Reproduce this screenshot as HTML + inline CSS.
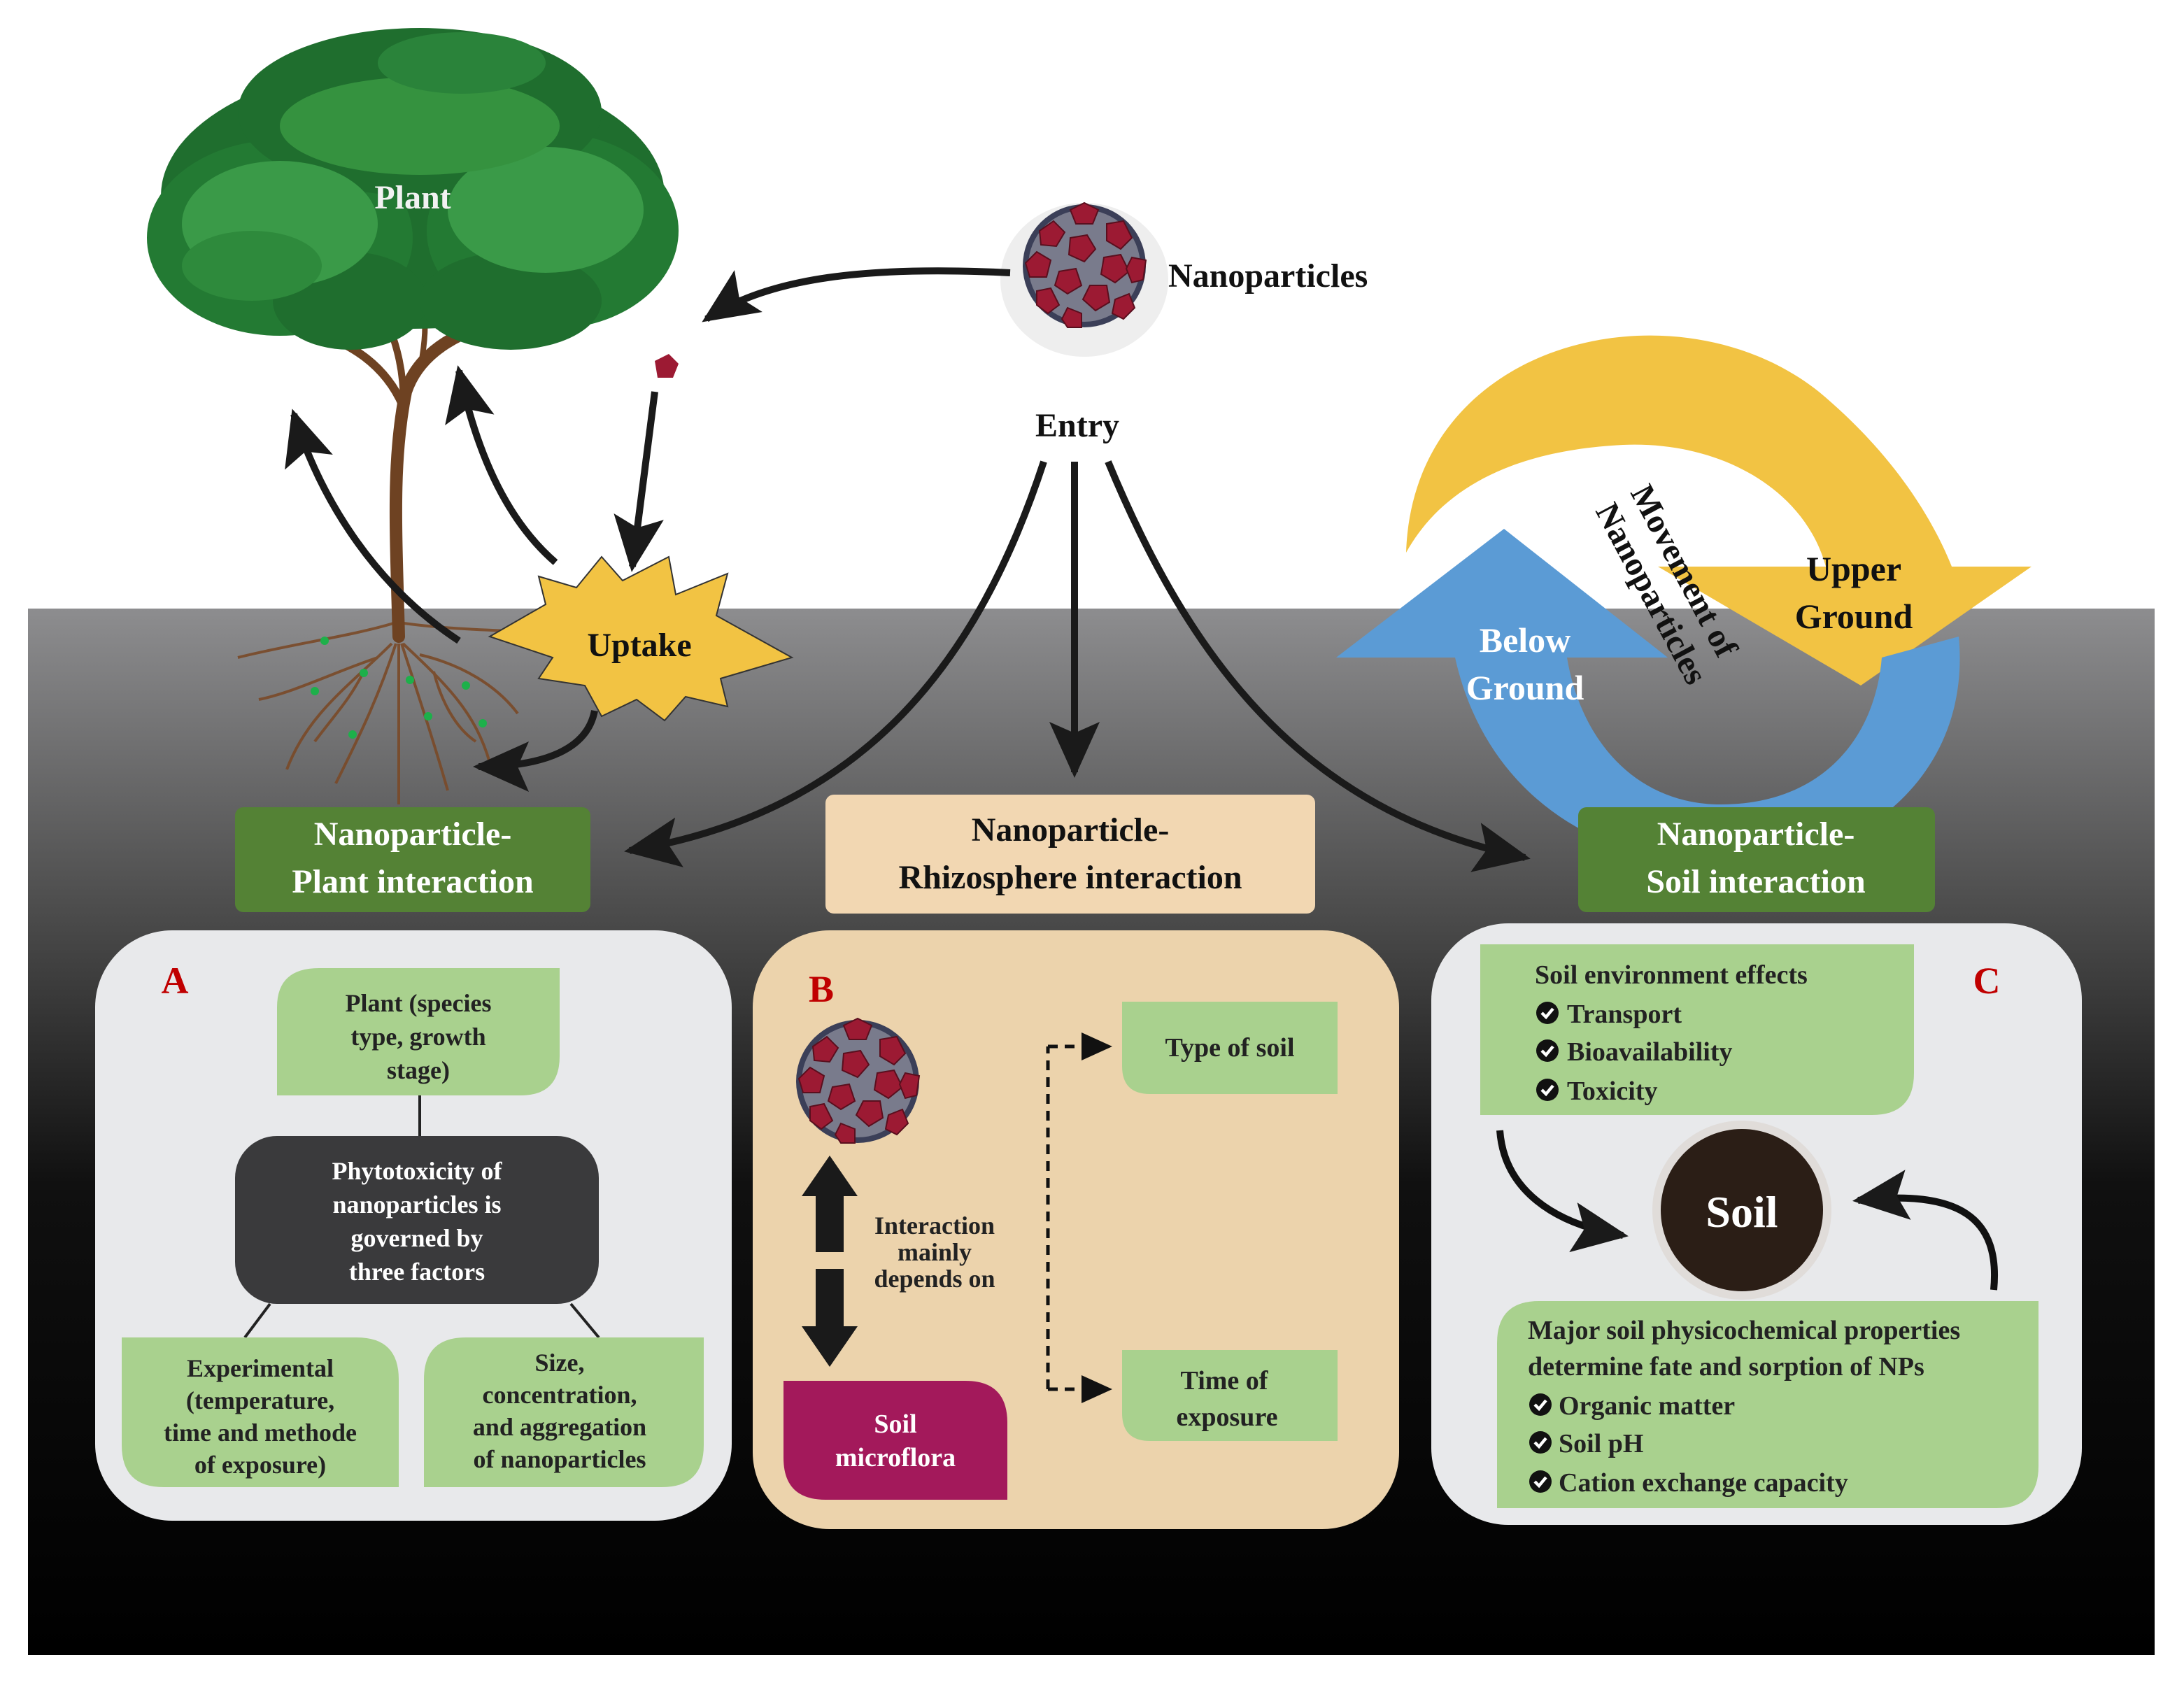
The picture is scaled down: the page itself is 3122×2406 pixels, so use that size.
<!DOCTYPE html>
<html><head><meta charset="utf-8"><style>
html,body{margin:0;padding:0;background:#fff;}
svg{display:block;}
text{font-family:"Liberation Serif",serif;font-weight:bold;}
</style></head><body>
<svg width="3122" height="2406" viewBox="0 0 1561 1203" xmlns="http://www.w3.org/2000/svg">
<defs>
<linearGradient id="bg" x1="0" y1="0" x2="0" y2="1">
<stop offset="0" stop-color="#8d8d8f"/>
<stop offset="0.28" stop-color="#4e4e4e"/>
<stop offset="0.55" stop-color="#101010"/>
<stop offset="1" stop-color="#000"/>
</linearGradient>
<marker id="ah" markerUnits="userSpaceOnUse" markerWidth="44" markerHeight="40" refX="36" refY="20" orient="auto">
<path d="M0,2 L40,20 L0,38 L8,20 Z" fill="#1a1a1a"/>
</marker>
<marker id="ahs" markerUnits="userSpaceOnUse" markerWidth="24" markerHeight="22" refX="20" refY="11" orient="auto">
<path d="M0,1 L22,11 L0,21 Z" fill="#111"/>
</marker>
<radialGradient id="np" cx="0.5" cy="0.5" r="0.5">
<stop offset="0" stop-color="#ccc"/><stop offset="1" stop-color="#999"/>
</radialGradient>
<g id="cluster">
<circle r="44" fill="#3b3f58"/>
<circle r="40" fill="#b7b7c0" opacity="0.5"/>
<g fill="#9c1a33" stroke="#5a0f1e" stroke-width="1">
<polygon points="-10,-40 0,-45 10,-40 6,-30 -6,-30"/>
<polygon points="-32,-25 -22,-32 -14,-24 -20,-14 -31,-15"/>
<polygon points="16,-30 28,-32 34,-20 26,-12 16,-18"/>
<polygon points="-42,-2 -34,-10 -24,-4 -27,8 -39,8"/>
<polygon points="-10,-20 2,-22 8,-12 0,-3 -11,-8"/>
<polygon points="14,-6 26,-8 32,4 22,12 12,6"/>
<polygon points="34,-6 44,-4 42,10 34,12 30,2"/>
<polygon points="-18,4 -6,2 -2,14 -12,20 -21,14"/>
<polygon points="4,14 16,14 18,26 8,32 -1,24"/>
<polygon points="-34,18 -24,16 -18,28 -26,34 -34,28"/>
<polygon points="22,24 32,20 36,30 28,38 20,34"/>
<polygon points="-12,30 -2,34 -2,44 -12,44 -16,38"/>
</g>
</g>
</defs>

<!-- ground -->
<rect x="20" y="435" width="1520" height="748" fill="url(#bg)"/>

<!-- cycle -->
<path d="M1005,395 C1010,240 1200,200 1300,280 C1360,330 1385,380 1395,405 L1305,405 C1290,350 1230,315 1160,318 C1080,322 1030,350 1005,395 Z" fill="#f2c343"/>
<polygon points="1185,405 1452,405 1330,490" fill="#f2c343"/>
<path d="M1400,455 C1410,560 1320,625 1220,618 C1130,612 1060,560 1040,470 L1120,470 C1130,530 1170,575 1230,575 C1300,575 1340,530 1345,470 Z" fill="#5b9bd5"/>
<polygon points="955,470 1192,470 1075,378" fill="#5b9bd5"/>
<text x="1325" y="415" font-size="25" text-anchor="middle" fill="#111">Upper</text>
<text x="1325" y="449" font-size="25" text-anchor="middle" fill="#111">Ground</text>
<text x="1090" y="466" font-size="25" text-anchor="middle" fill="#fff">Below</text>
<text x="1090" y="500" font-size="25" text-anchor="middle" fill="#fff">Ground</text>
<g transform="translate(1165,352) rotate(62)"><text x="0" y="0" font-size="24" fill="#111">Movement of</text></g>
<g transform="translate(1140,365) rotate(62)"><text x="0" y="0" font-size="24" fill="#111">Nanoparticles</text></g>

<!-- tree roots -->
<g stroke="#7a4a28" stroke-width="2" fill="none" opacity="0.9">
<path d="M283,445 C250,455 210,460 170,470"/>
<path d="M285,445 C320,450 350,450 380,452"/>
<path d="M280,460 C250,490 220,510 205,550"/>
<path d="M288,460 C320,490 340,510 350,545"/>
<path d="M283,460 C270,500 255,530 240,560"/>
<path d="M287,460 C300,500 310,530 320,565"/>
<path d="M285,460 L285,575"/>
<path d="M270,470 C240,480 210,495 185,500"/>
<path d="M300,468 C330,475 355,490 370,510"/>
<path d="M260,480 C250,500 240,510 225,530"/>
<path d="M310,480 C315,500 325,520 340,530"/>
</g>
<g fill="#1db04a"><circle cx="232" cy="458" r="3"/><circle cx="260" cy="481" r="3"/><circle cx="225" cy="494" r="3"/><circle cx="293" cy="486" r="3"/><circle cx="333" cy="490" r="3"/><circle cx="306" cy="512" r="3"/><circle cx="345" cy="517" r="3"/><circle cx="252" cy="525" r="3"/></g>

<!-- trunk -->
<g stroke="#6e4222" fill="none" stroke-linecap="round">
<path d="M285,455 C283,380 280,330 290,280 C300,250 330,235 370,225" stroke-width="9"/>
<path d="M288,290 C275,260 250,245 220,235" stroke-width="6"/>
<path d="M288,300 C290,270 285,245 270,215" stroke-width="5"/>
<path d="M300,265 C305,240 305,225 300,205" stroke-width="4"/>
</g>
<!-- canopy -->
<g>
<ellipse cx="295" cy="140" rx="180" ry="95" fill="#1f6e2e"/>
<ellipse cx="200" cy="170" rx="95" ry="70" fill="#237a33"/>
<ellipse cx="395" cy="165" rx="90" ry="70" fill="#237a33"/>
<ellipse cx="300" cy="80" rx="130" ry="60" fill="#1f6e2e"/>
<ellipse cx="250" cy="215" rx="55" ry="35" fill="#1f6e2e"/>
<ellipse cx="365" cy="215" rx="65" ry="35" fill="#1f6e2e"/>
<ellipse cx="200" cy="160" rx="70" ry="45" fill="#3a9a48"/>
<ellipse cx="390" cy="150" rx="70" ry="45" fill="#3a9a48"/>
<ellipse cx="300" cy="90" rx="100" ry="35" fill="#35923f"/>
<ellipse cx="180" cy="190" rx="50" ry="25" fill="#2e8a3c"/>
<ellipse cx="330" cy="45" rx="60" ry="22" fill="#2a833a"/>
</g>
<text x="295" y="149" font-size="24" text-anchor="middle" fill="#f2f2f2">Plant</text>

<!-- nanoparticles -->
<ellipse cx="775" cy="200" rx="60" ry="55" fill="#ddd" opacity="0.5"/>
<use href="#cluster" x="775" y="190"/>
<text x="835" y="205" font-size="24" fill="#111">Nanoparticles</text>
<text x="770" y="312" font-size="24" text-anchor="middle" fill="#111">Entry</text>
<polygon points="468,258 478,253 485,260 481,270 470,270" fill="#9c1a33"/>

<!-- arrows top -->
<g stroke="#1a1a1a" stroke-width="5" fill="none">
<path d="M722,195 C620,190 550,198 505,228" marker-end="url(#ah)"/>
<path d="M468,280 L452,405" marker-end="url(#ah)"/>
<path d="M397,402 C360,370 340,320 328,265" marker-end="url(#ah)"/>
<path d="M328,458 C270,420 230,360 210,296" marker-end="url(#ah)"/>
<path d="M425,508 C420,535 390,548 342,548" marker-end="url(#ah)"/>
<path d="M746,330 C700,470 620,580 450,608" marker-end="url(#ah)"/>
<path d="M768,330 L768,552" marker-end="url(#ah)"/>
<path d="M792,330 C850,470 930,580 1090,613" marker-end="url(#ah)"/>
</g>
<!-- uptake star -->
<polygon points="350,455 390,432 385,412 412,420 430,398 445,415 478,398 483,425 520,410 512,440 566,470 515,485 520,505 490,498 475,515 455,500 430,512 418,490 385,485 395,470" fill="#f2c343" stroke="#333" stroke-width="1"/>
<text x="457" y="469" font-size="24" text-anchor="middle" fill="#111">Uptake</text>

<!-- headers -->
<rect x="168" y="577" width="254" height="75" rx="6" fill="#548235"/>
<text x="295" y="604" font-size="24" text-anchor="middle" fill="#fff">Nanoparticle-</text>
<text x="295" y="638" font-size="24" text-anchor="middle" fill="#fff">Plant interaction</text>
<rect x="590" y="568" width="350" height="85" rx="6" fill="#f2d7b2"/>
<text x="765" y="601" font-size="24" text-anchor="middle" fill="#111">Nanoparticle-</text>
<text x="765" y="635" font-size="24" text-anchor="middle" fill="#111">Rhizosphere interaction</text>
<rect x="1128" y="577" width="255" height="75" rx="6" fill="#548235"/>
<text x="1255" y="604" font-size="24" text-anchor="middle" fill="#fff">Nanoparticle-</text>
<text x="1255" y="638" font-size="24" text-anchor="middle" fill="#fff">Soil interaction</text>

<!-- Panel A -->
<rect x="68" y="665" width="455" height="422" rx="55" fill="#e8e9eb"/>
<text x="125" y="710" font-size="27" text-anchor="middle" fill="#c00000">A</text>
<path d="M228,692 H400 V755 Q400,783 372,783 H198 V720 Q198,692 228,692 Z" fill="#a9d18e"/>
<text x="299" y="723" font-size="18" text-anchor="middle" fill="#222">Plant (species</text>
<text x="299" y="747" font-size="18" text-anchor="middle" fill="#222">type, growth</text>
<text x="299" y="771" font-size="18" text-anchor="middle" fill="#222">stage)</text>
<line x1="300" y1="783" x2="300" y2="812" stroke="#222" stroke-width="2"/>
<rect x="168" y="812" width="260" height="120" rx="30" fill="#3a3a3c"/>
<text x="298" y="843" font-size="18" text-anchor="middle" fill="#fff">Phytotoxicity of</text>
<text x="298" y="867" font-size="18" text-anchor="middle" fill="#fff">nanoparticles is</text>
<text x="298" y="891" font-size="18" text-anchor="middle" fill="#fff">governed by</text>
<text x="298" y="915" font-size="18" text-anchor="middle" fill="#fff">three factors</text>
<line x1="193" y1="932" x2="175" y2="956" stroke="#222" stroke-width="2"/>
<line x1="408" y1="932" x2="428" y2="956" stroke="#222" stroke-width="2"/>
<path d="M87,956 H255 Q285,956 285,986 V1063 H117 Q87,1063 87,1033 Z" fill="#a9d18e"/>
<text x="186" y="984" font-size="18" text-anchor="middle" fill="#222">Experimental</text>
<text x="186" y="1007" font-size="18" text-anchor="middle" fill="#222">(temperature,</text>
<text x="186" y="1030" font-size="18" text-anchor="middle" fill="#222">time and methode</text>
<text x="186" y="1053" font-size="18" text-anchor="middle" fill="#222">of exposure)</text>
<path d="M333,956 H503 V1033 Q503,1063 473,1063 H303 V986 Q303,956 333,956 Z" fill="#a9d18e"/>
<text x="400" y="980" font-size="18" text-anchor="middle" fill="#222">Size,</text>
<text x="400" y="1003" font-size="18" text-anchor="middle" fill="#222">concentration,</text>
<text x="400" y="1026" font-size="18" text-anchor="middle" fill="#222">and aggregation</text>
<text x="400" y="1049" font-size="18" text-anchor="middle" fill="#222">of nanoparticles</text>

<!-- Panel B -->
<rect x="538" y="665" width="462" height="428" rx="55" fill="#ecd3ac"/>
<text x="587" y="716" font-size="27" text-anchor="middle" fill="#c00000">B</text>
<use href="#cluster" x="613" y="773"/>
<polygon points="593,826 573,855 583,855 583,895 603,895 603,855 613,855" fill="#1a1a1a"/>
<polygon points="593,977 573,948 583,948 583,907 603,907 603,948 613,948" fill="#1a1a1a"/>
<text x="668" y="882" font-size="18" text-anchor="middle" fill="#222">Interaction</text>
<text x="668" y="901" font-size="18" text-anchor="middle" fill="#222">mainly</text>
<text x="668" y="920" font-size="18" text-anchor="middle" fill="#222">depends on</text>
<path d="M560,987 H690 Q720,987 720,1017 V1072 H590 Q560,1072 560,1042 Z" fill="#a3195b"/>
<text x="640" y="1024" font-size="19" text-anchor="middle" fill="#fff">Soil</text>
<text x="640" y="1048" font-size="19" text-anchor="middle" fill="#fff">microflora</text>
<g stroke="#111" stroke-width="2.5" fill="none" stroke-dasharray="7,5">
<path d="M749,993 V748"/>
<path d="M749,748 H793" marker-end="url(#ahs)"/>
<path d="M749,993 H793" marker-end="url(#ahs)"/>
</g>
<path d="M802,716 H956 V782 H822 Q802,782 802,762 Z" fill="#a9d18e"/>
<text x="879" y="755" font-size="19" text-anchor="middle" fill="#222">Type of soil</text>
<path d="M802,965 H956 V1030 H822 Q802,1030 802,1010 Z" fill="#a9d18e"/>
<text x="875" y="993" font-size="19" text-anchor="middle" fill="#222">Time of</text>
<text x="877" y="1019" font-size="19" text-anchor="middle" fill="#222">exposure</text>

<!-- Panel C -->
<rect x="1023" y="660" width="465" height="430" rx="55" fill="#e8e9eb"/>
<text x="1420" y="710" font-size="27" text-anchor="middle" fill="#c00000">C</text>
<path d="M1058,675 H1368 V767 Q1368,797 1338,797 H1058 Z" fill="#a9d18e"/>
<text x="1097" y="703" font-size="19" fill="#222">Soil environment effects</text>
<g font-size="19" fill="#222">
<text x="1120" y="731">Transport</text>
<text x="1120" y="758">Bioavailability</text>
<text x="1120" y="786">Toxicity</text>
</g>
<g fill="#111"><circle cx="1106" cy="724" r="8"/><circle cx="1106" cy="751" r="8"/><circle cx="1106" cy="779" r="8"/></g>
<g stroke="#fff" stroke-width="2.2" fill="none"><path d="M1102,724 l3,3 l5,-6"/><path d="M1102,751 l3,3 l5,-6"/><path d="M1102,779 l3,3 l5,-6"/></g>

<circle cx="1245" cy="865" r="64" fill="#d8d0c8" opacity="0.5"/>
<circle cx="1245" cy="865" r="58" fill="#2b1e16"/>
<text x="1245" y="877" font-size="32" text-anchor="middle" fill="#fff">Soil</text>
<g stroke="#111" stroke-width="5" fill="none">
<path d="M1072,808 C1075,850 1110,875 1160,883" marker-end="url(#ah)"/>
<path d="M1425,922 C1430,870 1400,850 1328,858" marker-end="url(#ah)"/>
</g>
<path d="M1100,930 H1457 V1048 Q1457,1078 1427,1078 H1070 V960 Q1070,930 1100,930 Z" fill="#a9d18e"/>
<text x="1092" y="957" font-size="19" fill="#222">Major soil physicochemical properties</text>
<text x="1092" y="983" font-size="19" fill="#222">determine fate and sorption of NPs</text>
<g font-size="19" fill="#222">
<text x="1114" y="1011">Organic matter</text>
<text x="1114" y="1038">Soil pH</text>
<text x="1114" y="1066">Cation exchange capacity</text>
</g>
<g fill="#111"><circle cx="1101" cy="1004" r="8"/><circle cx="1101" cy="1031" r="8"/><circle cx="1101" cy="1059" r="8"/></g>
<g stroke="#fff" stroke-width="2.2" fill="none"><path d="M1097,1004 l3,3 l5,-6"/><path d="M1097,1031 l3,3 l5,-6"/><path d="M1097,1059 l3,3 l5,-6"/></g>
</svg>
</body></html>
